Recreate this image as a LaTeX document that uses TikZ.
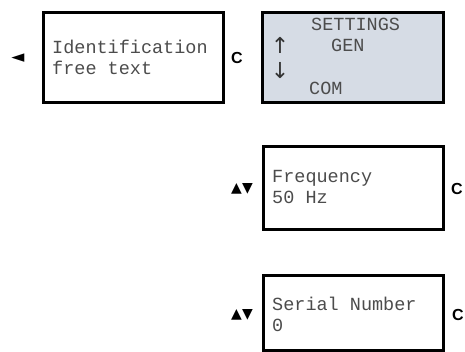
\documentclass[tikz,border=0pt]{standalone}
\usepackage{fontspec}
\newfontfamily\monof{Liberation Mono}
\newfontfamily\sansf{Liberation Sans}
\newfontfamily\symf{DejaVu Sans}
\definecolor{panelgray}{RGB}{214,220,229}
\begin{document}
\begin{tikzpicture}[x=1pt,y=-1pt,
  screen/.style={draw=black, line width=3pt, inner sep=0pt, outer sep=0pt, anchor=north west},
  mono/.style={font=\monof\fontsize{18.5}{21}\selectfont, inner sep=0pt, anchor=base west, align=left, text=black!70},
  key/.style={font=\sansf\bfseries\fontsize{16}{17}\selectfont, inner sep=0pt, anchor=center},
  sym/.style={font=\symf\fontsize{14}{16}\selectfont, inner sep=0pt, anchor=center},
  updn/.style={font=\symf\fontsize{22}{24}\selectfont, inner sep=0pt, anchor=center, text=black!80}]
\useasboundingbox (0,0) rectangle (465,352);
% screens
\node[screen, minimum width=180pt, minimum height=90pt] (s1) at (43,13) {};
\node[screen, fill=panelgray, minimum width=181pt, minimum height=90pt] (s2) at (262,13) {};
\node[screen, minimum width=180pt, minimum height=83pt] (s3) at (263,147) {};
\node[screen, minimum width=180pt, minimum height=75pt] (s4) at (263,275) {};
% screen texts
\node[mono] (t1) at (52,75) {Identification\\free text};
\node[mono] (t2a) at (311,31) {SETTINGS};
\node[mono] (t2b) at (331,52) {GEN};
\node[mono] (t2c) at (309,95) {COM};
\node[updn] (up) at (280,45) {↑};
\node[updn] (dn) at (280,71) {↓};
\node[mono] (t3) at (272,204) {Frequency\\50 Hz};
\node[mono] (t4) at (272,331) {Serial Number\\0};
% keys
\node[sym, font=\symf\fontsize{17}{18}\selectfont] (left) at (18,58) {◄};
\node[key] (c1) at (237,58) {C};
\node[sym] (ud3) at (242,189) {▲▼};
\node[key] (c3) at (457,189) {C};
\node[sym] (ud4) at (242,315) {▲▼};
\node[key] (c4) at (458,315) {C};
\end{tikzpicture}
\end{document}
